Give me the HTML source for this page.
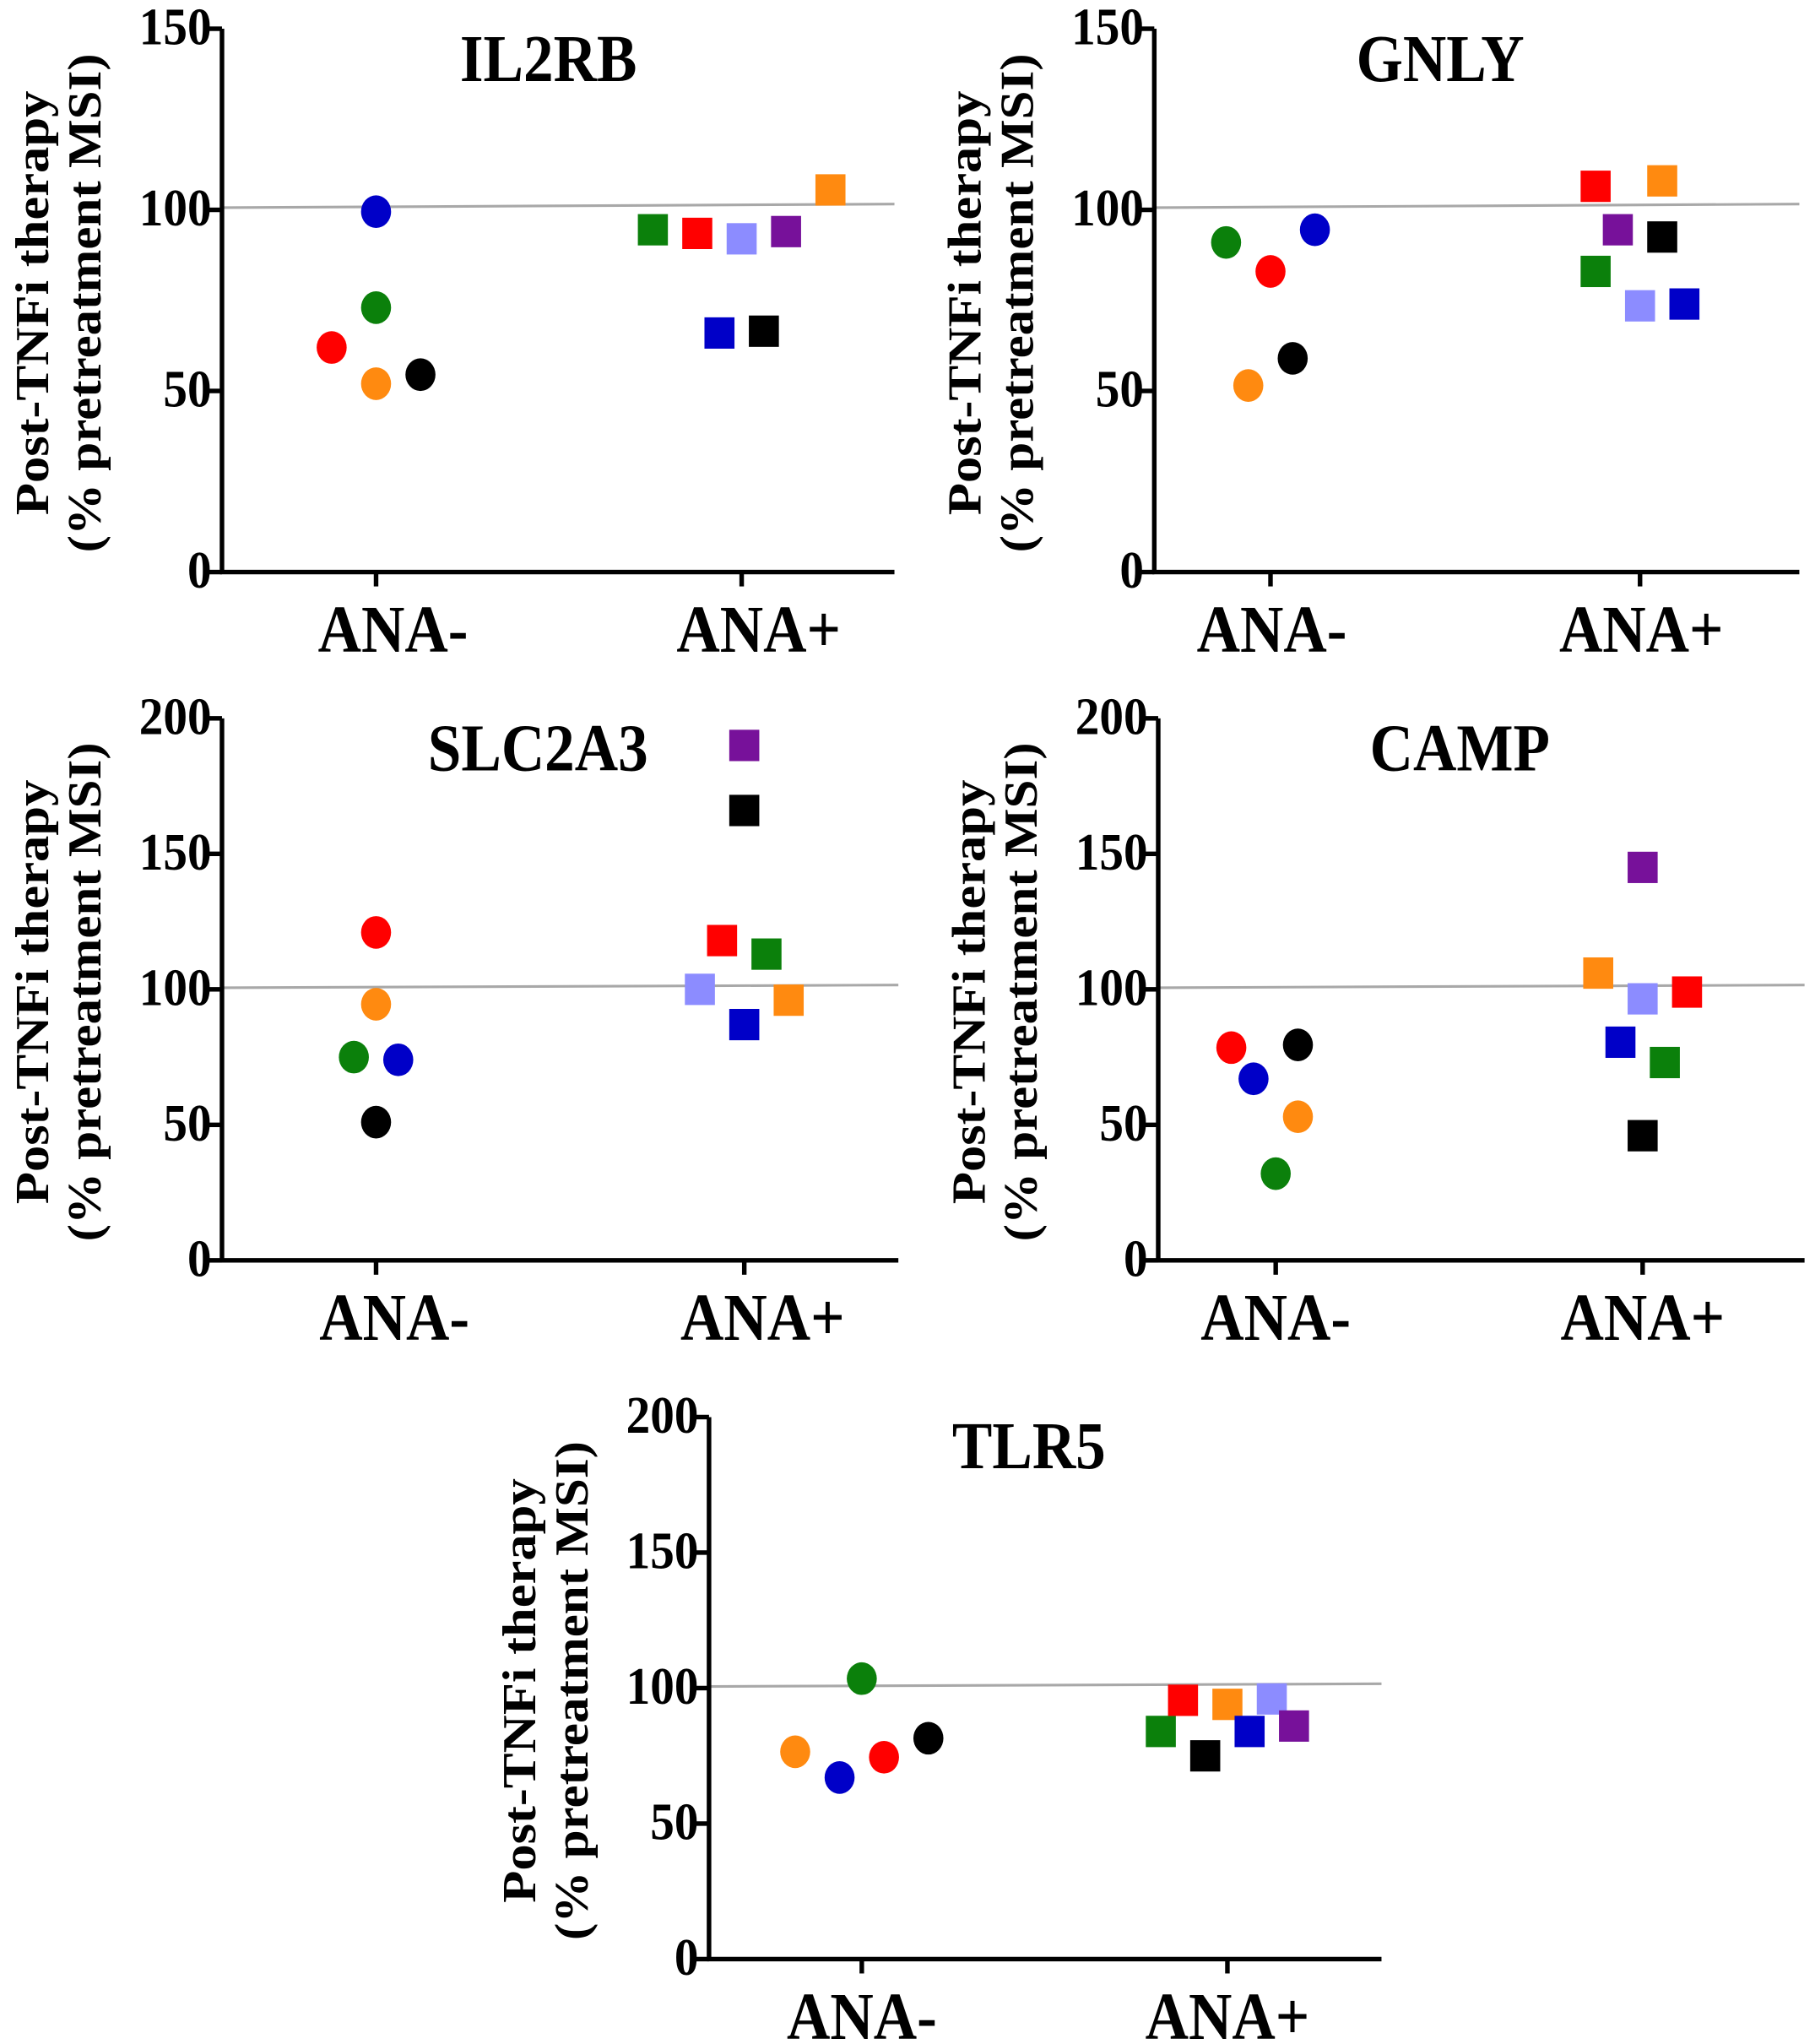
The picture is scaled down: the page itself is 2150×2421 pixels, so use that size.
<!DOCTYPE html>
<html><head><meta charset="utf-8"><style>
html,body{margin:0;padding:0;background:#fff;}
svg{display:block;}
text{font-family:"Liberation Serif",serif;font-weight:bold;fill:#000;}
</style></head>
<body>
<svg id="fig" width="2150" height="2421" viewBox="0 0 1390 1565" preserveAspectRatio="none" xmlns="http://www.w3.org/2000/svg"></svg>
<script>
const groups = ["ANA-","ANA+"];
const colorNames = ["green","red","orange","black","blue","lightblue","purple"];
const colorHex = {green:"#0b800b",red:"#ff0000",orange:"#ff8a10",black:"#000000",blue:"#0000c8",lightblue:"#8c8cff",purple:"#77119a"};

// IL2RB
const il2rbNegColors = ["blue","green","red","orange","black"];
const il2rbNegValues = [99.5,73,62,52,54.5];
const il2rbNegOffsets = [0,0,-1,0,1];
const il2rbPosColors = ["green","red","lightblue","purple","orange","blue","black"];
const il2rbPosValues = [94.5,93.5,92,94,105.5,66,66.5];
const il2rbPosOffsets = [-2,-1,0,1,2,-0.5,0.5];
// GNLY
const gnlyNegColors = ["green","red","blue","orange","black"];
const gnlyNegValues = [91,83,94.5,51.5,59];
const gnlyNegOffsets = [-1,0,1,-0.5,0.5];
const gnlyPosColors = ["red","orange","purple","black","green","lightblue","blue"];
const gnlyPosValues = [106.5,108,94.5,92.5,83,73.5,74];
const gnlyPosOffsets = [-1,0.5,-0.5,0.5,-1,0,1];
// SLC2A3
const slcNegColors = ["red","orange","green","blue","black"];
const slcNegValues = [121,94.5,75,74,51];
const slcNegOffsets = [0,0,-0.5,0.5,0];
const slcPosColors = ["purple","black","red","green","lightblue","orange","blue"];
const slcPosValues = [190,166,118,113,100,96,87];
const slcPosOffsets = [0,0,-0.5,0.5,-1,1,0];
// CAMP
const campNegColors = ["red","blue","black","orange","green"];
const campNegValues = [78.5,67,79.5,53,32];
const campNegOffsets = [-1,-0.5,0.5,0.5,0];
const campPosColors = ["purple","orange","lightblue","red","blue","green","black"];
const campPosValues = [145,106,96.5,99,80.5,73,46];
const campPosOffsets = [0,-1,0,1,-0.5,0.5,0];
// TLR5
const tlrNegColors = ["green","orange","blue","red","black"];
const tlrNegValues = [103.5,76.5,67,74.5,81.5];
const tlrNegOffsets = [0,-1.5,-0.5,0.5,1.5];
const tlrPosColors = ["green","red","black","orange","blue","lightblue","purple"];
const tlrPosValues = [84,95.5,75,94,84,96,86];
const tlrPosOffsets = [-1.5,-1,-0.5,0,0.5,1,1.5];

const ticks150 = [0,50,100,150];
const ticks200 = [0,50,100,150,200];

const panels = [
 {name:"il2rb",title:"IL2RB",ax:170,top:22,bot:438,right:685,gx:[288,568],lo:13,tx:420,ty:62,ymax:150,ticks:ticks150,
  neg:[il2rbNegColors,il2rbNegValues,il2rbNegOffsets],pos:[il2rbPosColors,il2rbPosValues,il2rbPosOffsets]},
 {name:"gnly",title:"GNLY",ax:884,top:22,bot:438,right:1378,gx:[973,1256],lo:1,tx:1103,ty:62,ymax:150,ticks:ticks150,
  neg:[gnlyNegColors,gnlyNegValues,gnlyNegOffsets],pos:[gnlyPosColors,gnlyPosValues,gnlyPosOffsets]},
 {name:"slc2a3",title:"SLC2A3",ax:170,top:550,bot:965,right:688,gx:[288,570],lo:14,tx:412,ty:590,ymax:200,ticks:ticks200,
  neg:[slcNegColors,slcNegValues,slcNegOffsets],pos:[slcPosColors,slcPosValues,slcPosOffsets]},
 {name:"camp",title:"CAMP",ax:887,top:550,bot:965,right:1382,gx:[977,1258],lo:0,tx:1118,ty:590,ymax:200,ticks:ticks200,
  neg:[campNegColors,campNegValues,campNegOffsets],pos:[campPosColors,campPosValues,campPosOffsets]},
 {name:"tlr5",title:"TLR5",ax:543,top:1085,bot:1500,right:1058,gx:[660,940],lo:0,tx:788,ty:1124,ymax:200,ticks:ticks200,
  neg:[tlrNegColors,tlrNegValues,tlrNegOffsets],pos:[tlrPosColors,tlrPosValues,tlrPosOffsets]}
];

const NS="http://www.w3.org/2000/svg";
const svg=document.getElementById('fig');
function mk(tag,attrs,parent){const e=document.createElementNS(NS,tag);for(const k in attrs)e.setAttribute(k,attrs[k]);(parent||svg).appendChild(e);return e;}
const SPACING=34;

panels.forEach(p=>{
  const g=mk('g',{});
  
  
  const y=v=>p.bot-v*(p.bot-p.top)/p.ymax;
  const rl=mk('line',{x1:p.ax,x2:p.right,y1:y(100.6),y2:y(101.6),stroke:"#a8a8a8","stroke-width":2},g);
  
  
  const ya=mk('line',{x1:p.ax,x2:p.ax,y1:p.top,y2:p.bot+1.5,stroke:"#000","stroke-width":3.5},g);
  
  
  const xa=mk('line',{x1:p.ax-1.5,x2:p.right,y1:p.bot,y2:p.bot,stroke:"#000","stroke-width":3.5},g);
  
  
  p.ticks.forEach(t=>{
    mk('line',{x1:p.ax-10,x2:p.ax,y1:y(t),y2:y(t),stroke:"#000","stroke-width":3.5},g);
    const ty=y(t)+12;
    const tl=mk('text',{x:p.ax-8,y:ty,"text-anchor":"end","font-size":37,transform:`translate(${p.ax-8},${ty}) scale(1,1.1) translate(${-(p.ax-8)},${-ty})`},g);
    tl.textContent=t;
    
    
  });
  groups.forEach((gn,i)=>{
    mk('line',{x1:p.gx[i],x2:p.gx[i],y1:p.bot,y2:p.bot+11,stroke:"#000","stroke-width":3.5},g);
    const lx=p.gx[i]+p.lo, ly=p.bot+61;
    const xl=mk('text',{x:lx,y:ly,"text-anchor":"middle","font-size":46,transform:`translate(${lx},${ly}) scale(1,1.12) translate(${-lx},${-ly})`},g);
    xl.textContent=gn;
    
    
  });
  const tt=mk('text',{x:p.tx,y:p.ty,"text-anchor":"middle","font-size":46,transform:`translate(${p.tx},${p.ty}) scale(1,1.12) translate(${-p.tx},${-p.ty})`},g);
  tt.textContent=p.title;
  
  
  const cy=(p.top+p.bot)/2+10;
  const ox=p.ax-170;
  const t1=mk('text',{x:0,y:0,"text-anchor":"middle","font-size":36,textLength:325,lengthAdjust:"spacingAndGlyphs",transform:`translate(${ox+37},${cy-8}) rotate(-90)`},g);
  t1.textContent="Post-TNFi  therapy";
  
  
  const t2=mk('text',{x:0,y:0,"text-anchor":"middle","font-size":36,textLength:382,lengthAdjust:"spacingAndGlyphs",transform:`translate(${ox+77},${cy-8}) rotate(-90)`},g);
  t2.textContent="(% pretreatment MSI)";
  
  
  const [nc,nv,no]=p.neg;
  nv.forEach((v,i)=>{
    const c=mk('ellipse',{cx:p.gx[0]+no[i]*SPACING,cy:y(v),rx:11.5,ry:12.5,fill:colorHex[nc[i]]},g);
    
    
  });
  const [pc,pv,po]=p.pos;
  pv.forEach((v,i)=>{
    const s=mk('rect',{x:p.gx[1]+po[i]*SPACING-11.5,y:y(v)-12,width:23,height:24,fill:colorHex[pc[i]]},g);
    
    
  });
});
</script>
</body></html>
